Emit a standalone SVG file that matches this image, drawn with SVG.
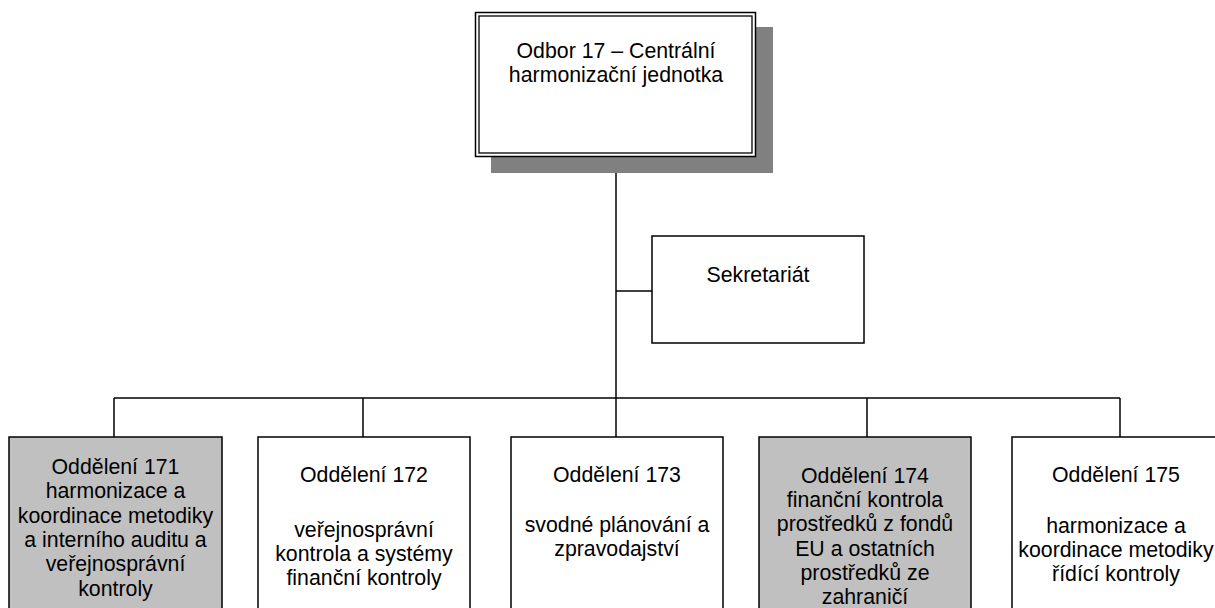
<svg xmlns="http://www.w3.org/2000/svg" width="1215" height="608" viewBox="0 0 1215 608">
<style>
.box{fill:#fff;stroke:#000;stroke-width:1.5}
.gray{fill:#c0c0c0}
.ln{stroke:#000;stroke-width:1.5;fill:none}
text{font-family:"Liberation Sans",Arial,sans-serif;font-size:21.3px;fill:#000;text-anchor:middle}
</style>
<rect width="1215" height="608" fill="#fff"/>
<g id="connectors">
<line class="ln" x1="616" y1="157" x2="616" y2="398"/>
<line class="ln" x1="616" y1="291" x2="652" y2="291"/>
<line class="ln" x1="114" y1="398" x2="1120" y2="398"/>
<line class="ln" x1="114" y1="398" x2="114" y2="437"/>
<line class="ln" x1="363" y1="398" x2="363" y2="437"/>
<line class="ln" x1="616" y1="398" x2="616" y2="437"/>
<line class="ln" x1="867" y1="398" x2="867" y2="437"/>
<line class="ln" x1="1120" y1="398" x2="1120" y2="437"/>
</g>
<g id="odbor17">
<rect x="491" y="27" width="282" height="146" fill="#808080"/>
<rect class="box" x="475.5" y="12.5" width="280" height="144"/>
<rect x="479" y="16" width="273" height="137" fill="none" stroke="#000" stroke-width="1.3"/>
<text x="616" y="58">Odbor 17 – Centrální</text>
<text x="616" y="82">harmonizační jednotka</text>
</g>
<g id="sekretariat">
<rect class="box" x="652" y="236" width="212" height="107"/>
<text x="758" y="282">Sekretariát</text>
</g>
<g id="odd171">
<rect class="box gray" x="9" y="437" width="213" height="190"/>
<text x="115.5" y="474">Oddělení 171</text>
<text x="115.5" y="498.3">harmonizace a</text>
<text x="115.5" y="522.6">koordinace metodiky</text>
<text x="115.5" y="546.9">a interního auditu a</text>
<text x="115.5" y="571.2">veřejnosprávní</text>
<text x="115.5" y="595.5">kontroly</text>
</g>
<g id="odd172">
<rect class="box" x="258" y="437" width="212" height="190"/>
<text x="364" y="482">Oddělení 172</text>
<text x="364" y="536.5">veřejnosprávní</text>
<text x="364" y="560.7">kontrola a systémy</text>
<text x="364" y="585">finanční kontroly</text>
</g>
<g id="odd173">
<rect class="box" x="511" y="437" width="212" height="190"/>
<text x="617" y="482">Oddělení 173</text>
<text x="617" y="531.7">svodné plánování a</text>
<text x="617" y="555.8">zpravodajství</text>
</g>
<g id="odd174">
<rect class="box gray" x="759" y="437" width="212" height="190"/>
<text x="865" y="483">Oddělení 174</text>
<text x="865" y="507.2">finanční kontrola</text>
<text x="865" y="531.4">prostředků z fondů</text>
<text x="865" y="555.6">EU a ostatních</text>
<text x="865" y="579.8">prostředků ze</text>
<text x="865" y="604">zahraničí</text>
</g>
<g id="odd175">
<rect class="box" x="1012" y="437" width="213" height="190"/>
<text x="1116" y="482">Oddělení 175</text>
<text x="1116" y="533">harmonizace a</text>
<text x="1116" y="557">koordinace metodiky</text>
<text x="1116" y="581">řídící kontroly</text>
</g>
</svg>
